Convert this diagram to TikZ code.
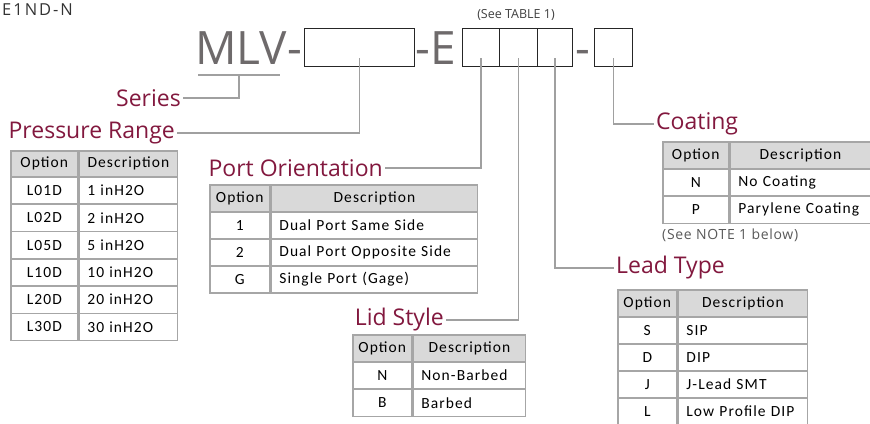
\documentclass[tikz,border=0pt]{standalone}
\usepackage{fontspec}
\setmainfont{Open Sans}
\newfontfamily\cellfont[LetterSpace=7,WordSpace={1.6,1.6,1.6}]{Carlito}
\newfontfamily\topfont[LetterSpace=12]{Open Sans}
\newfontfamily\notefont[LetterSpace=5]{Open Sans}
\usetikzlibrary{positioning}

\definecolor{headred}{RGB}{130,24,62}
\definecolor{codegray}{RGB}{110,106,107}
\definecolor{linegray}{RGB}{160,160,160}
\definecolor{gridgray}{RGB}{166,166,166}
\definecolor{hdrfill}{RGB}{217,217,217}

\tikzset{
  heading/.style={text=headred, inner sep=2pt, font=\fontsize{23}{26}\selectfont},
  codebox/.style={draw=black!85, line width=1.4pt, minimum height=38pt, inner sep=0pt, anchor=north west},
  conn/.style={draw=linegray, line width=1.5pt},
  hcell/.style={draw=gridgray, line width=1.6pt, fill=hdrfill, inner sep=0pt, anchor=north west,
    font=\cellfont\fontsize{15.5}{17}\selectfont},
  ocell/.style={draw=gridgray, line width=1.6pt, inner sep=0pt, anchor=north west,
    font=\cellfont\fontsize{15.5}{17}\selectfont},
  dcell/.style={draw=gridgray, line width=1.6pt, inner xsep=8pt, inner ysep=0pt, align=left, anchor=north west,
    font=\cellfont\fontsize{15.5}{17}\selectfont}
}

\begin{document}
\begin{tikzpicture}[x=1pt,y=-1pt]
  \useasboundingbox (0,0) rectangle (870,423);

  % Model label
  \node[anchor=base west, inner sep=0pt, text=black!80, font=\topfont\fontsize{16.5}{18}\selectfont] (model) at (2,16) {E1ND-N};
  \node[anchor=base, inner sep=0pt, text=black!75, font=\fontsize{12.5}{15}\selectfont] (seetab) at (516,19) {(See TABLE 1)};

  % Part number
  \node[anchor=base west, inner sep=0pt, text=codegray, font=\fontsize{46}{50}\selectfont] (mlv) at (195,64) {MLV-};
  \node[codebox, minimum width=110pt] (b1) at (304,28) {};
  \node[anchor=base west, inner sep=0pt, text=codegray, font=\fontsize{46}{50}\selectfont] (dashe) at (415,64) {-E};
  \node[codebox, minimum width=37pt] (b2) at (462,28) {};
  \node[codebox, minimum width=38pt] (b3) at (499,28) {};
  \node[codebox, minimum width=35pt] (b4) at (537,28) {};
  \node[anchor=base west, inner sep=0pt, text=codegray, font=\fontsize{46}{50}\selectfont] (dash) at (575,64) {-};
  \node[codebox, minimum width=38pt] (b5) at (594,28) {};

  % Headings
  \node[heading, anchor=east] (series) at (183,98) {Series};
  \node[heading, anchor=east] (press) at (177,133) {Pressure Range};
  \node[heading, anchor=east] (port) at (385,168) {Port Orientation};
  \node[heading, anchor=east] (lid) at (446,320) {Lid Style};
  \node[heading, anchor=west] (lead) at (614,268) {Lead Type};
  \node[heading, anchor=west] (coat) at (654,124) {Coating};

  % Connectors
  \draw[conn] (198,75) -- (280,75);
  \draw[conn] (239,75) |- (series.east);
  \draw[conn] ([yshift=9pt]b1.south) |- (press.east);
  \draw[conn] ([yshift=9pt]b2.south) |- (port.east);
  \draw[conn] ([yshift=9pt]b3.south) |- (lid.east);
  \draw[conn] ([yshift=9pt]b4.south) |- (lead.west);
  \draw[conn] ([yshift=9pt]b5.south) |- (coat.west);

  % Pressure Range table
  \node[hcell, minimum width=67pt, minimum height=26pt] (pr-h1) at (10,150) {Option};
  \node[hcell, minimum width=98pt, minimum height=26pt] (pr-h2) at (pr-h1.north east) {Description};
  \foreach \o/\d [count=\i] in {L01D/1 inH2O, L02D/2 inH2O, L05D/5 inH2O, L10D/10 inH2O, L20D/20 inH2O, L30D/30 inH2O} {
    \node[ocell, minimum width=67pt, minimum height=27.3pt] (pr-o\i) at (10,{176+(\i-1)*27.3}) {\o};
    \node[dcell, text width=82pt, minimum height=27.3pt] (pr-d\i) at (pr-o\i.north east) {\d};
  }

  % Port Orientation table
  \node[hcell, minimum width=60pt, minimum height=27pt] (po-h1) at (209,184) {Option};
  \node[hcell, minimum width=206pt, minimum height=27pt] (po-h2) at (po-h1.north east) {Description};
  \foreach \o/\d [count=\i] in {1/Dual Port Same Side, 2/Dual Port Opposite Side, G/Single Port (Gage)} {
    \node[ocell, minimum width=60pt, minimum height=27pt] (po-o\i) at (209,{211+(\i-1)*27}) {\o};
    \node[dcell, text width=190pt, minimum height=27pt] (po-d\i) at (po-o\i.north east) {\d};
  }

  % Lid Style table
  \node[hcell, minimum width=59pt, minimum height=27pt] (ls-h1) at (352,334) {Option};
  \node[hcell, minimum width=112pt, minimum height=27pt] (ls-h2) at (ls-h1.north east) {Description};
  \foreach \o/\d [count=\i] in {N/Non-Barbed, B/Barbed} {
    \node[ocell, minimum width=59pt, minimum height=27.3pt] (ls-o\i) at (352,{361+(\i-1)*27.3}) {\o};
    \node[dcell, text width=96pt, minimum height=27.3pt] (ls-d\i) at (ls-o\i.north east) {\d};
  }

  % Lead Type table
  \node[hcell, minimum width=59pt, minimum height=27pt] (lt-h1) at (617,289) {Option};
  \node[hcell, minimum width=129pt, minimum height=27pt] (lt-h2) at (lt-h1.north east) {Description};
  \foreach \o/\d [count=\i] in {S/SIP, D/DIP, J/J-Lead SMT, L/Low Profile DIP} {
    \node[ocell, minimum width=59pt, minimum height=27pt] (lt-o\i) at (617,{316+(\i-1)*27}) {\o};
    \node[dcell, text width=113pt, minimum height=27pt] (lt-d\i) at (lt-o\i.north east) {\d};
  }

  % Coating table
  \node[hcell, minimum width=66pt, minimum height=27pt] (ct-h1) at (662,141) {Option};
  \node[hcell, minimum width=140pt, minimum height=27pt] (ct-h2) at (ct-h1.north east) {Description};
  \foreach \o/\d [count=\i] in {N/No Coating, P/Parylene Coating} {
    \node[ocell, minimum width=66pt, minimum height=27.3pt] (ct-o\i) at (662,{168+(\i-1)*27.3}) {\o};
    \node[dcell, text width=124pt, minimum height=27.3pt] (ct-d\i) at (ct-o\i.north east) {\d};
  }
  \node[anchor=north west, inner sep=0pt, text=black!65, font=\notefont\fontsize{14}{16}\selectfont] (note) at (662,229) {(See NOTE 1 below)};
\end{tikzpicture}
\end{document}
